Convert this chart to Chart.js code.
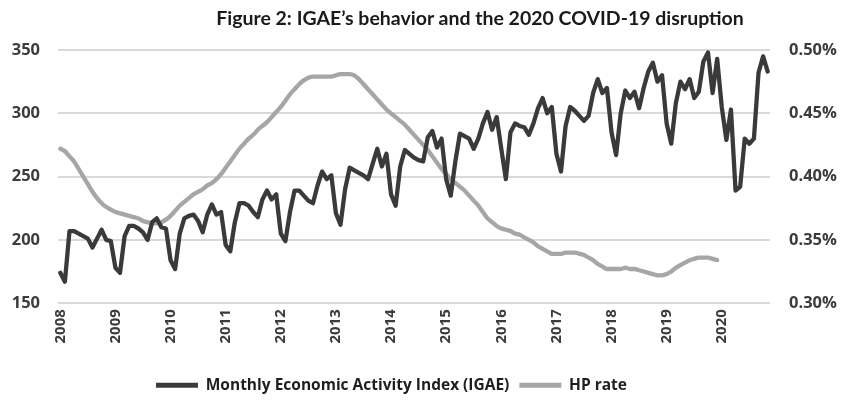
<!DOCTYPE html>
<html><head><meta charset="utf-8">
<script src="https://cdn.jsdelivr.net/npm/chart.js@4/dist/chart.umd.min.js"></script>
<style>
html,body{margin:0;padding:0;background:#fff;overflow:hidden;}
#wrap{position:relative;width:845px;height:401px;}
#title{position:absolute;top:6px;left:0;width:960px;text-align:center;font-family:Lato,sans-serif;font-weight:bold;font-size:19.5px;color:#1a1a1a;white-space:nowrap;}
canvas{position:absolute;left:0;top:0;}
</style></head><body>
<div id="wrap"><canvas id="c" width="845" height="401"></canvas><div id="title"></div></div>
<script>
const chartTitle = "Figure 2: IGAE\u2019s behavior and the 2020 COVID-19 disruption";
const yearLabels = ['2008','2009','2010','2011','2012','2013','2014','2015','2016','2017','2018','2019','2020'];
const seriesNames = ['Monthly Economic Activity Index (IGAE)', 'HP rate'];
const leftTicks = [150, 200, 250, 300, 350];
const rightTicks = [0.30, 0.35, 0.40, 0.45, 0.50];

// Monthly Economic Activity Index, Jan 2008 – Nov 2020
const igae = [
  174,167,207,207,205,203,201,194,201,208,200,199,
  178,174,203,211,211,209,206,200,214,217,210,209,
  184,177,205,217,219,220,215,206,220,228,220,222,
  196,191,214,229,229,227,222,218,232,239,232,236,
  205,199,222,239,239,235,231,229,243,254,248,251,
  221,212,240,257,255,253,251,248,260,272,258,268,
  236,227,258,271,268,265,263,262,281,286,273,280,
  248,235,262,284,282,280,272,280,292,301,287,297,
  272,248,285,292,290,289,283,292,304,312,300,305,
  268,254,290,305,302,298,294,298,316,327,316,320,
  285,267,300,318,312,317,304,320,333,340,325,330,
  292,276,308,325,319,327,312,317,341,348,316,343,
  305,279,303,239,242,280,276,280,332,345,333
];
// HP-filter rate (%), Jan 2008 – Dec 2019
const hpRate = [
  0.422,0.420,0.416,0.412,0.406,0.400,0.394,0.388,0.383,0.379,0.376,0.374,
  0.372,0.371,0.370,0.369,0.368,0.367,0.365,0.364,0.363,0.363,0.364,0.366,
  0.369,0.373,0.377,0.380,0.383,0.386,0.388,0.390,0.393,0.395,0.398,0.402,
  0.407,0.412,0.417,0.422,0.426,0.430,0.433,0.437,0.440,0.443,0.447,0.451,
  0.455,0.460,0.465,0.469,0.473,0.476,0.478,0.479,0.479,0.479,0.479,0.479,
  0.480,0.481,0.481,0.481,0.480,0.477,0.473,0.469,0.465,0.461,0.457,0.453,
  0.450,0.447,0.444,0.441,0.437,0.433,0.429,0.425,0.421,0.416,0.411,0.406,
  0.402,0.398,0.395,0.392,0.389,0.385,0.381,0.377,0.372,0.367,0.364,0.361,
  0.359,0.358,0.357,0.355,0.354,0.352,0.350,0.348,0.345,0.343,0.341,0.339,
  0.339,0.339,0.340,0.340,0.340,0.339,0.338,0.336,0.334,0.331,0.329,0.327,
  0.327,0.327,0.327,0.328,0.327,0.327,0.326,0.325,0.324,0.323,0.322,0.322,
  0.323,0.325,0.328,0.330,0.332,0.334,0.335,0.336,0.336,0.336,0.335,0.334
];

document.getElementById('title').textContent = chartTitle;

const monthLabels = [];
yearLabels.forEach(y => { for (let m = 1; m <= 12; m++) monthLabels.push(y + '-' + String(m).padStart(2, '0')); });
monthLabels.length = igae.length;

const tickColor = '#3c3c3c';
const tickFont = { family: "'Open Sans', sans-serif", weight: 'bold', size: 16.5 };

const legendShift = {
  id: 'legendShift',
  afterLayout(chart) { const l = chart.legend; if (l) { l.left -= 31; l.right -= 31; l.top += 2; l.bottom += 2; } }
};

new Chart(document.getElementById('c'), {
  type: 'line',
  plugins: [legendShift],
  data: {
    labels: monthLabels,
    datasets: [
      { label: seriesNames[0], data: igae, yAxisID: 'y', borderColor: '#3a3a3a', backgroundColor: '#3a3a3a',
        borderWidth: 4.3, pointRadius: 0, tension: 0, borderJoinStyle: 'round', borderCapStyle: 'round' },
      { label: seriesNames[1], data: hpRate, yAxisID: 'y2', borderColor: '#a6a6a6', backgroundColor: '#a6a6a6',
        borderWidth: 4.3, pointRadius: 0, tension: 0.4, cubicInterpolationMode: 'monotone', borderCapStyle: 'round' }
    ]
  },
  options: {
    responsive: false,
    animation: false,
    layout: { padding: { top: 50, left: 0, right: 0, bottom: 0 } },
    plugins: {
      title: { display: false },
      tooltip: { enabled: false },
      legend: {
        position: 'bottom',
        labels: {
          color: '#1e1e1e',
          font: { family: "'Open Sans', sans-serif", weight: 'bold', size: 15.5 },
          boxWidth: 42, boxHeight: 5, padding: 10,
          generateLabels: (chart) => Chart.defaults.plugins.legend.labels.generateLabels(chart).map(l => Object.assign(l, { lineWidth: 0 }))
        }
      }
    },
    scales: {
      x: {
        type: 'category', offset: true,
        grid: { display: false, drawTicks: false },
        border: { display: false },
        ticks: {
          autoSkip: false, maxRotation: 90, minRotation: 90, padding: 6,
          color: tickColor, font: { family: "'Open Sans', sans-serif", weight: 'bold', size: 15 },
          callback: function (v, i) { const l = monthLabels[i]; return l.endsWith('-01') ? l.slice(0, 4) : ''; }
        },
        afterFit: s => { s.height = 62.3; }
      },
      y: {
        position: 'left', min: leftTicks[0], max: leftTicks[leftTicks.length - 1],
        afterBuildTicks: s => { s.ticks = leftTicks.map(v => ({ value: v })); },
        grid: { color: '#d9d9d9', lineWidth: 2, drawTicks: false },
        border: { display: false },
        ticks: { padding: 18, color: tickColor, font: tickFont },
        afterFit: s => { s.width = 58; }
      },
      y2: {
        position: 'right', min: rightTicks[0], max: rightTicks[rightTicks.length - 1],
        afterBuildTicks: s => { s.ticks = rightTicks.map(v => ({ value: v })); },
        grid: { display: false, drawTicks: false },
        border: { display: false },
        ticks: { padding: 19, color: tickColor, font: tickFont, callback: v => v.toFixed(2) + '%' },
        afterFit: s => { s.width = 75; }
      }
    }
  }
});
</script>
</body></html>
